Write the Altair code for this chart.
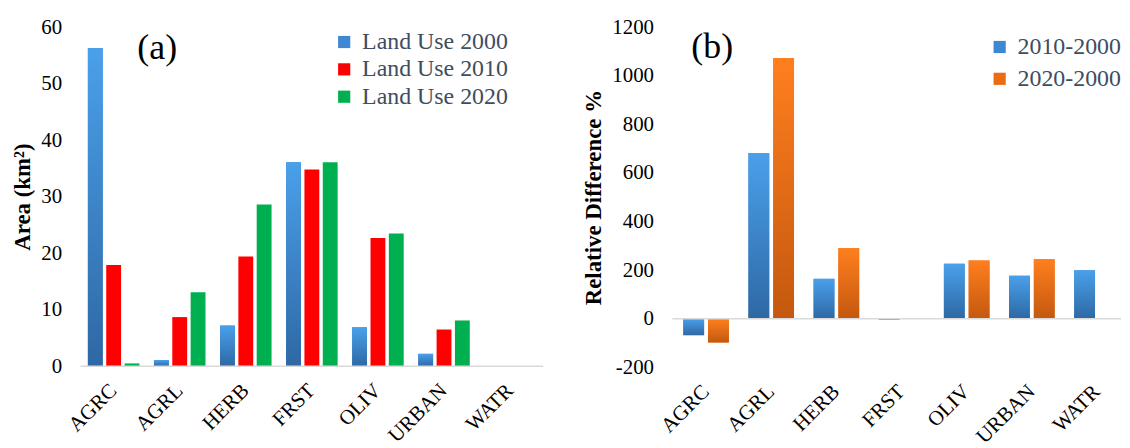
import altair as alt
import pandas as pd

FONT = "Liberation Serif"

categories = ["AGRC", "AGRL", "HERB", "FRST", "OLIV", "URBAN", "WATR"]

series_a = ["Land Use 2000", "Land Use 2010", "Land Use 2020"]
lu2000 = [56.3, 1.1, 7.2, 36.1, 6.9, 2.2, 0.0]
lu2010 = [17.9, 8.7, 19.4, 34.8, 22.7, 6.5, 0.0]
lu2020 = [0.5, 13.1, 28.6, 36.1, 23.5, 8.1, 0.0]
ticks_a = [0, 10, 20, 30, 40, 50, 60]

series_b = ["2010-2000", "2020-2000"]
d2010 = [-68, 682, 164, -3.6, 226, 177, 199]
d2020 = [-98, 1073, 290, 0, 239, 245, 0]
ticks_b = [-200, 0, 200, 400, 600, 800, 1000, 1200]

colors_a = ["#3d87d3", "#ff0000", "#00b050"]
colors_b = ["#3d87d3", "#ec6c14"]

rows_a = []
for s, vals in zip(series_a, [lu2000, lu2010, lu2020]):
    for c, v in zip(categories, vals):
        rows_a.append({"cat": c, "sa": s, "value": v})
df_a = pd.DataFrame(rows_a)

rows_b = []
for s, vals in zip(series_b, [d2010, d2020]):
    for c, v in zip(categories, vals):
        rows_b.append({"cat": c, "sb": s, "value": v})
df_b = pd.DataFrame(rows_b)

blue_grad = alt.LinearGradient(
    gradient="linear", x1=0, x2=0, y1=0, y2=1,
    stops=[alt.GradientStop(offset=0, color="#4aa0ea"),
           alt.GradientStop(offset=1, color="#2e68a4")])
orange_grad = alt.LinearGradient(
    gradient="linear", x1=0, x2=0, y1=0, y2=1,
    stops=[alt.GradientStop(offset=0, color="#ff7f1e"),
           alt.GradientStop(offset=1, color="#c4580f")])


def panel(df, sfield, series, colors, grads, domain, ticks, ytitle, tag, inner,
          outer, align, sub_inner, width, height, legend_x, legend_y, row_pad,
          tag_x, tag_y):
    base = alt.Chart(df).encode(
        x=alt.X("cat:N", sort=categories,
                scale=alt.Scale(paddingInner=inner, paddingOuter=outer,
                                align=align),
                axis=alt.Axis(title=None, labelAngle=-45, labelAlign="right",
                              labelBaseline="middle", labelFont=FONT,
                              labelFontSize=21, labelColor="black",
                              ticks=False, domain=False, labelPadding=21)),
        xOffset=alt.XOffset(f"{sfield}:N", sort=series,
                            scale=alt.Scale(domain=series, paddingInner=sub_inner,
                                            paddingOuter=0)),
        y=alt.Y("value:Q",
                scale=alt.Scale(domain=domain, nice=False),
                axis=alt.Axis(values=ticks, title=ytitle, titleFont=FONT,
                              titleFontSize=23, titleFontWeight="bold",
                              titleColor="black", labelFont=FONT,
                              labelFontSize=21, labelColor="black",
                              labelExpr="'' + datum.value",
                              grid=False, ticks=False, domain=False,
                              labelPadding=19, titlePadding=6)),
    )
    bars = base.mark_bar().encode(
        color=alt.Color(f"{sfield}:N", sort=series,
                        scale=alt.Scale(domain=series, range=colors),
                        legend=alt.Legend(orient="none", legendX=legend_x,
                                          legendY=legend_y, title=None,
                                          symbolType="square", symbolSize=150,
                                          symbolStrokeWidth=0,
                                          labelFont=FONT, labelFontSize=24,
                                          labelColor="#404d5e",
                                          rowPadding=row_pad, labelOffset=6,
                                          padding=0))
    )
    layers = [bars]
    for s, g in grads.items():
        layers.append(base.mark_bar(fill=g)
                      .transform_filter(alt.datum[sfield] == s))
    rule = alt.Chart(pd.DataFrame({"value": [0]})).mark_rule(
        color="#d9d9d9", strokeWidth=1.5).encode(y=alt.Y("value:Q"))
    text = alt.Chart(pd.DataFrame({"t": [tag]})).mark_text(
        font=FONT, fontSize=36, align="center", baseline="middle",
        color="black").encode(text="t:N", x=alt.value(tag_x), y=alt.value(tag_y))
    return alt.layer(*layers, rule, text).properties(width=width, height=height)


left = panel(df_a, "sa", series_a, colors_a, {"Land Use 2000": blue_grad},
             [0, 60], ticks_a, "Area (km²)", "(a)", 0.22, 0.11, 0.5, 0.19,
             465, 341, 253, 3, 3.5, 77, 21)
right = panel(df_b, "sb", series_b, colors_b,
              {"2010-2000": blue_grad, "2020-2000": orange_grad},
              [-200, 1200], ticks_b, "Relative Difference %", "(b)", 0.3, 0.0925,
              0.9, 0.16, 451, 342, 317, 8, 8, 40, 20).properties(
    title=alt.TitleParams(text=" ", fontSize=7, offset=0))

chart = alt.hconcat(left, right, spacing=39).properties(
    padding={"left": 4, "top": 0, "right": 0, "bottom": 0}
).configure_view(stroke=None).resolve_scale(
    color="independent", xOffset="independent", x="independent", y="independent"
)

chart.save("out.html", embed_options={"renderer": "svg", "actions": False})
